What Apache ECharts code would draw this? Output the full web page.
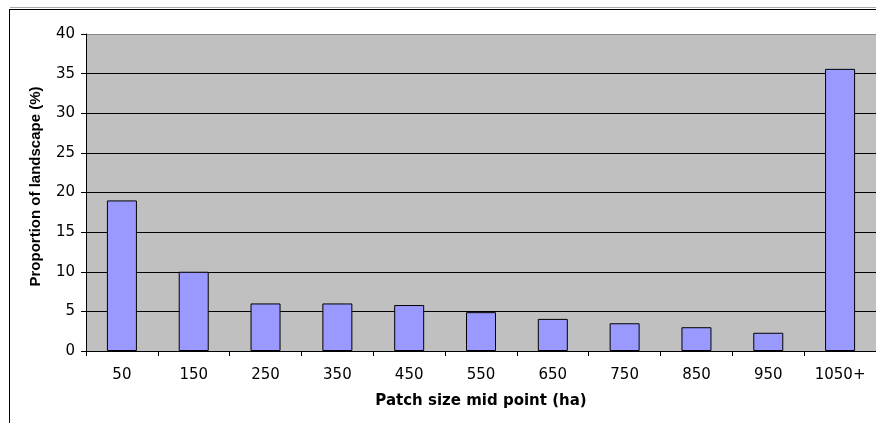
<!DOCTYPE html>
<html><head><meta charset="utf-8">
<script src="https://cdn.jsdelivr.net/npm/echarts@6/dist/echarts.min.js"></script>
<style>html,body{margin:0;padding:0;background:#fff}#c{width:876px;height:423px}</style>
</head><body><div id="c"></div>
<script>
const categories = ['50','150','250','350','450','550','650','750','850','950','1050+'];
const values = [19.0, 10.0, 6.0, 6.0, 5.8, 4.9, 4.05, 3.5, 3.0, 2.3, 35.6];
const yTicks = {min: 0, max: 40, interval: 5};
const xTitle = 'Patch size mid point (ha)';
const yTitle = 'Proportion of landscape (%)';

const chart = echarts.init(document.getElementById('c'), null, {renderer: 'canvas'});
const font = '"DejaVu Sans", Arial, sans-serif';
const fontV = '"Liberation Sans", Arial, sans-serif';
chart.setOption({
  animation: false,
  backgroundColor: '#fff',
  grid: {left: 86, top: 34, width: 792, height: 317, show: true, backgroundColor: '#c0c0c0', borderWidth: 0},
  graphic: [
    {type: 'line', shape: {x1: 10, y1: 7.5, x2: 876, y2: 7.5}, style: {stroke: '#aaa', lineWidth: 1}, z: 100},
    {type: 'line', shape: {x1: 10, y1: 9.5, x2: 876, y2: 9.5}, style: {stroke: '#000', lineWidth: 1}, z: 100},
    {type: 'line', shape: {x1: 9.5, y1: 9, x2: 9.5, y2: 423}, style: {stroke: '#000', lineWidth: 1}, z: 100}
  ],
  xAxis: {
    type: 'category', data: categories,
    name: xTitle, nameLocation: 'middle', nameGap: 43,
    nameTextStyle: {fontFamily: font, fontSize: 15, fontWeight: 'bold', color: '#000'},
    axisLine: {lineStyle: {color: '#000', width: 1}},
    axisTick: {show: true, length: 5, lineStyle: {color: '#000'}},
    axisLabel: {fontFamily: font, fontSize: 15, color: '#000', margin: 17},
    splitLine: {show: false}
  },
  yAxis: {
    type: 'value', min: yTicks.min, max: yTicks.max, interval: yTicks.interval,
    name: yTitle, nameLocation: 'middle', nameGap: 43, nameRotate: 90,
    nameTextStyle: {fontFamily: fontV, fontSize: 15, fontWeight: 'bold', color: '#000', padding: [0, 0, 0, 12]},
    axisLine: {show: true, lineStyle: {color: '#000', width: 1}},
    axisTick: {show: true, length: 5, lineStyle: {color: '#000'}},
    axisLabel: {fontFamily: font, fontSize: 15, color: '#000', margin: 11},
    splitLine: {show: true, lineStyle: {color: ['#000','#000','#000','#000','#000','#000','#000','#000','#888'], width: 1}}
  },
  series: [{
    type: 'bar', data: values, barWidth: 30,
    itemStyle: {color: '#9999ff', borderColor: '#000', borderWidth: 1}
  }]
});
</script></body></html>
